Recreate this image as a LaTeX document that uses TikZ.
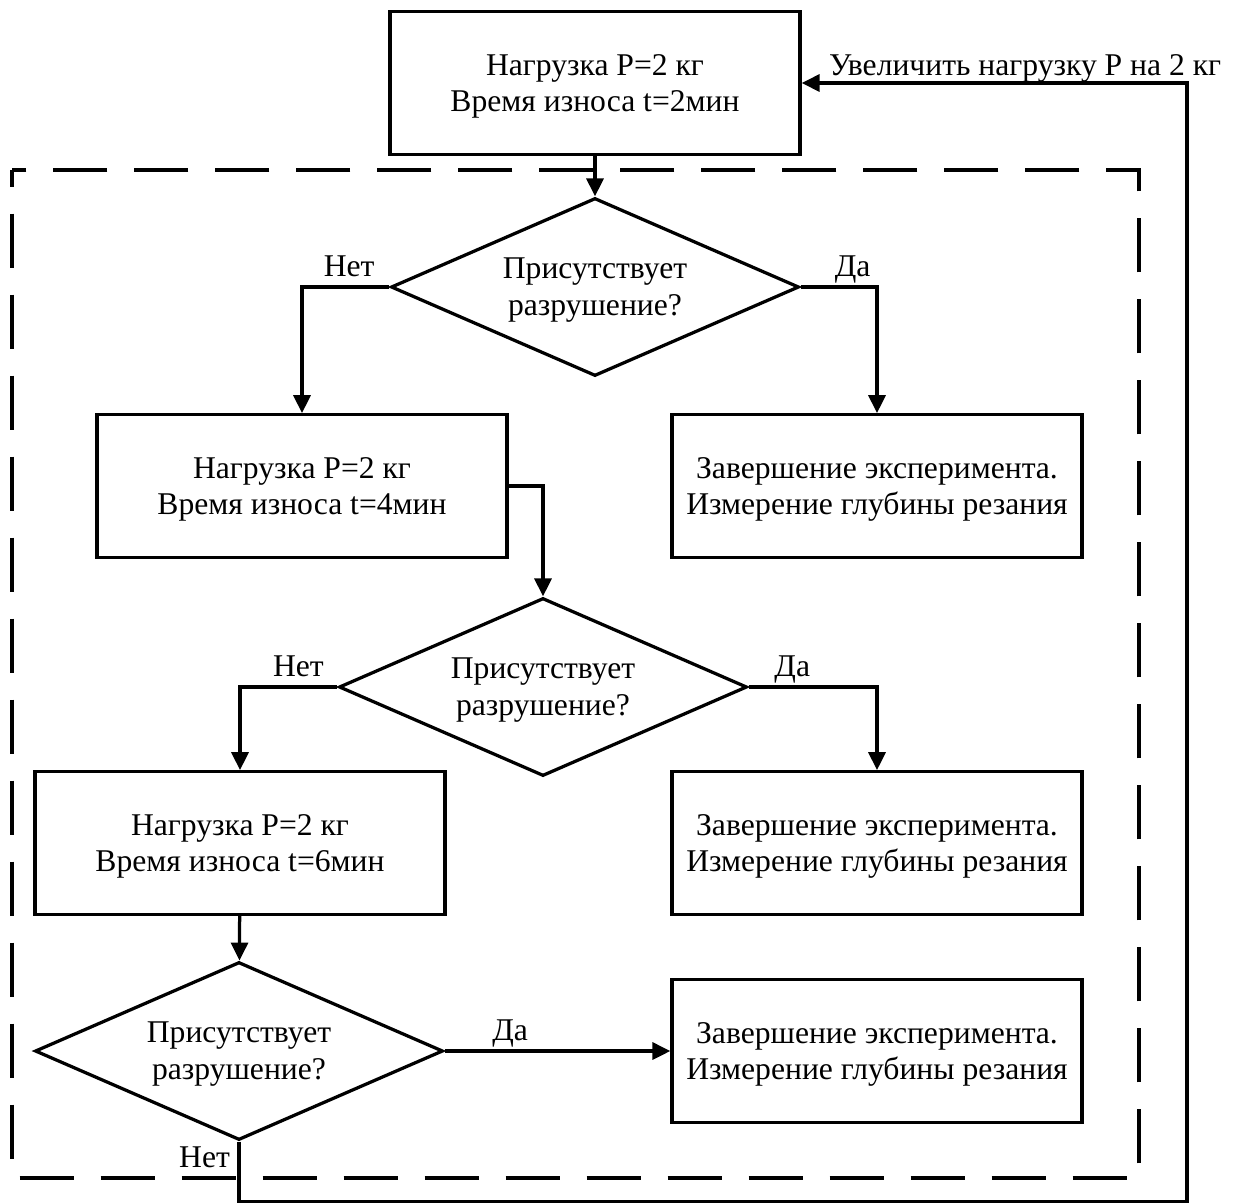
\documentclass[tikz,border=0pt]{standalone}
\usepackage{fontspec}
\setmainfont{Liberation Serif}
\usepackage{xcolor}
\definecolor{Black}{RGB}{0,0,0}
\definecolor{White}{RGB}{255,255,255}
\newcommand{\loadtext}[1]			{Нагрузка P=2 кг\\Время износа t=#1мин}
\newcommand{\stoptext}				{Завершение эксперимента.\\Измерение глубины резания}
\newcommand{\querytext}				{Присутствует\\разрушение?}
\usetikzlibrary{shapes.geometric, arrows.meta}

\begin{document}
\begin{tikzpicture}[x=0.2mm, y=-0.2mm,
		block/.style={rectangle, draw=Black, fill=White, line width=0.65mm, align=center, minimum width=82mm, minimum height=28.5mm, inner sep=0mm, text depth=0mm, font=\fontsize{18}{21}\selectfont},
		query/.style={diamond, aspect=2.3, draw=Black, fill=White, line width=0.65mm, align=center, minimum width=81.6mm, minimum height=35.6mm, inner sep=0mm, text depth=0mm, font=\fontsize{18}{21}\selectfont},
		flow/.style={-{Triangle[length=3.6mm, width=3.4mm]}, draw=Black, line width=0.65mm},
		tag/.style={color=Black, inner sep=0.5mm, text depth=1.2mm, font=\fontsize{18}{21}\selectfont}]
		
		\useasboundingbox (0,0) rectangle (1237,1202);
		
		% Frame
		\draw[draw=Black, line width=0.65mm, dash pattern=on 10.8mm off 5.4mm, dash phase=7.5mm] (12,170) rectangle (1139,1178);
		
		% Blocks
		\node[block] (load2) at (595,83) {\loadtext{2}};
		\node[query] (query1) at (595,287) {\querytext};
		\node[block] (load4) at (302,486) {\loadtext{4}};
		\node[block] (stop1) at (877,486) {\stoptext};
		\node[query] (query2) at (543,687) {\querytext};
		\node[block] (load6) at (240,843) {\loadtext{6}};
		\node[block] (stop2) at (877,843) {\stoptext};
		\node[query] (query3) at (239,1051) {\querytext};
		\node[block] (stop3) at (877,1051) {\stoptext};
		
		\coordinate (loop) at (1187,1202);
		
		% Connectors
		\draw[flow] (load2) -- (query1);
		\draw[flow] (query1.west) -| (load4.north) node[tag, pos=0.23, above] (no1) {Нет};
		\draw[flow] (query1.east) -| (stop1.north) node[tag, pos=0.34, above] (yes1) {Да};
		\draw[flow] (load4.east) -| (query2.north);
		\draw[flow] (query2.west) -| (load6.north) node[tag, pos=0.2, above] (no2) {Нет};
		\draw[flow] (query2.east) -| (stop2.north) node[tag, pos=0.17, above] (yes2) {Да};
		\draw[flow] (load6) -- (query3);
		\draw[flow] (query3.east) -- (stop3.west) node[tag, pos=0.29, above] (yes3) {Да};
		
		% Return
		\draw[flow] (query3.south) |- (loop) node[tag, pos=0.15, left, inner sep=1.5mm] (no3) {Нет} |- (load2.east) node[tag, pos=0.71, above, inner sep=0mm, text depth=1.1mm] (more) {Увеличить нагрузку Р на 2 кг};
		
	\end{tikzpicture}
\end{document}
